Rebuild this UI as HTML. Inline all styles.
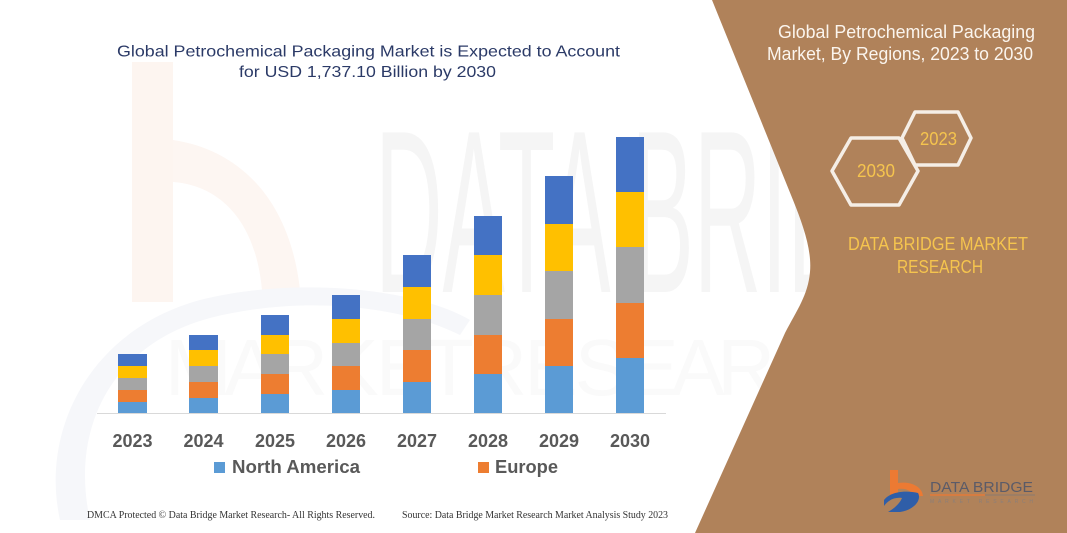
<!DOCTYPE html>
<html><head><meta charset="utf-8"><style>
html,body{margin:0;padding:0;background:#fff;}
svg{display:block;}
</style></head><body>
<svg width="1067" height="533" viewBox="0 0 1067 533" xmlns="http://www.w3.org/2000/svg">
<rect x="0" y="0" width="1067" height="533" fill="#ffffff"/>
<!-- faint watermarks -->
<rect x="132" y="62" width="41" height="240" fill="#fdf5f0"/>
<path d="M173 140 C 240 150, 290 200, 300 290 L 262 290 C 255 215, 215 185, 173 182 Z" fill="#fdf6f2"/>
<path d="M60 520 C 40 430, 90 330, 200 300 C 300 275, 420 290, 470 320 L 460 335 C 400 305, 300 295, 210 318 C 110 345, 70 430, 90 520 Z" fill="#f6f7fa"/>
<text x="375" y="292" font-family="Liberation Sans, sans-serif" font-size="232" fill="#f5f5f5" textLength="615" lengthAdjust="spacingAndGlyphs">DATA BRIDGE</text>
<text x="165" y="395" font-family="Liberation Sans, sans-serif" font-size="80" fill="#fafafa" textLength="720" lengthAdjust="spacing">M A R K E T R E S E A R C H</text>

<!-- brown panel -->
<path d="M712 0 L793 200 C 803 225 812 250 810 272 C 808 295 797 310 785 333 L695 533 L1067 533 L1067 0 Z" fill="#b0825a"/>

<!-- title -->
<text x="117" y="56.5" font-family="Liberation Sans, sans-serif" font-size="16" fill="#2b3a67" textLength="503" lengthAdjust="spacingAndGlyphs">Global Petrochemical Packaging Market is Expected to Account</text>
<text x="239" y="77" font-family="Liberation Sans, sans-serif" font-size="16" fill="#2b3a67" textLength="257" lengthAdjust="spacingAndGlyphs">for USD 1,737.10 Billion by 2030</text>

<!-- baseline -->
<line x1="97" y1="413.5" x2="666" y2="413.5" stroke="#d9d9d9" stroke-width="1"/>

<!-- bars -->
<g>
<rect x="118" y="354" width="29" height="12" fill="#4472c4"/>
<rect x="118" y="366" width="29" height="12" fill="#ffc000"/>
<rect x="118" y="378" width="29" height="12" fill="#a5a5a5"/>
<rect x="118" y="390" width="29" height="12" fill="#ed7d31"/>
<rect x="118" y="402" width="29" height="11" fill="#5b9bd5"/>
<rect x="189" y="335" width="29" height="15" fill="#4472c4"/>
<rect x="189" y="350" width="29" height="16" fill="#ffc000"/>
<rect x="189" y="366" width="29" height="16" fill="#a5a5a5"/>
<rect x="189" y="382" width="29" height="16" fill="#ed7d31"/>
<rect x="189" y="398" width="29" height="15" fill="#5b9bd5"/>
<rect x="261" y="315" width="28" height="20" fill="#4472c4"/>
<rect x="261" y="335" width="28" height="19" fill="#ffc000"/>
<rect x="261" y="354" width="28" height="20" fill="#a5a5a5"/>
<rect x="261" y="374" width="28" height="20" fill="#ed7d31"/>
<rect x="261" y="394" width="28" height="19" fill="#5b9bd5"/>
<rect x="332" y="295" width="28" height="24" fill="#4472c4"/>
<rect x="332" y="319" width="28" height="24" fill="#ffc000"/>
<rect x="332" y="343" width="28" height="23" fill="#a5a5a5"/>
<rect x="332" y="366" width="28" height="24" fill="#ed7d31"/>
<rect x="332" y="390" width="28" height="23" fill="#5b9bd5"/>
<rect x="403" y="255" width="28" height="32" fill="#4472c4"/>
<rect x="403" y="287" width="28" height="32" fill="#ffc000"/>
<rect x="403" y="319" width="28" height="31" fill="#a5a5a5"/>
<rect x="403" y="350" width="28" height="32" fill="#ed7d31"/>
<rect x="403" y="382" width="28" height="31" fill="#5b9bd5"/>
<rect x="474" y="216" width="28" height="39" fill="#4472c4"/>
<rect x="474" y="255" width="28" height="40" fill="#ffc000"/>
<rect x="474" y="295" width="28" height="40" fill="#a5a5a5"/>
<rect x="474" y="335" width="28" height="39" fill="#ed7d31"/>
<rect x="474" y="374" width="28" height="39" fill="#5b9bd5"/>
<rect x="545" y="176" width="28" height="48" fill="#4472c4"/>
<rect x="545" y="224" width="28" height="47" fill="#ffc000"/>
<rect x="545" y="271" width="28" height="48" fill="#a5a5a5"/>
<rect x="545" y="319" width="28" height="47" fill="#ed7d31"/>
<rect x="545" y="366" width="28" height="47" fill="#5b9bd5"/>
<rect x="616" y="137" width="28" height="55" fill="#4472c4"/>
<rect x="616" y="192" width="28" height="55" fill="#ffc000"/>
<rect x="616" y="247" width="28" height="56" fill="#a5a5a5"/>
<rect x="616" y="303" width="28" height="55" fill="#ed7d31"/>
<rect x="616" y="358" width="28" height="55" fill="#5b9bd5"/>
</g>

<!-- year labels -->
<g font-family="Liberation Sans, sans-serif" font-size="18" font-weight="bold" fill="#595959" text-anchor="middle">
<text x="132.5" y="447">2023</text>
<text x="203.5" y="447">2024</text>
<text x="275" y="447">2025</text>
<text x="346" y="447">2026</text>
<text x="417" y="447">2027</text>
<text x="488" y="447">2028</text>
<text x="559" y="447">2029</text>
<text x="630" y="447">2030</text>
</g>

<!-- legend -->
<rect x="214" y="462" width="11" height="11" fill="#5b9bd5"/>
<text x="232" y="473" font-family="Liberation Sans, sans-serif" font-size="18" font-weight="bold" fill="#595959" textLength="128" lengthAdjust="spacingAndGlyphs">North America</text>
<rect x="478" y="462" width="11" height="11" fill="#ed7d31"/>
<text x="495" y="473" font-family="Liberation Sans, sans-serif" font-size="18" font-weight="bold" fill="#595959" textLength="63" lengthAdjust="spacingAndGlyphs">Europe</text>

<!-- footer -->
<text x="87" y="518" font-family="Liberation Serif, serif" font-size="10" fill="#333333" textLength="288" lengthAdjust="spacingAndGlyphs">DMCA Protected © Data Bridge Market Research-  All Rights Reserved.</text>
<text x="402" y="518" font-family="Liberation Serif, serif" font-size="10" fill="#333333" textLength="266" lengthAdjust="spacingAndGlyphs">Source: Data Bridge Market Research  Market Analysis Study 2023</text>

<!-- right panel text -->
<text x="778" y="38" font-family="Liberation Sans, sans-serif" font-size="18" fill="#fbf5ee" textLength="257" lengthAdjust="spacingAndGlyphs">Global Petrochemical Packaging</text>
<text x="767" y="60" font-family="Liberation Sans, sans-serif" font-size="18" fill="#fbf5ee" textLength="266" lengthAdjust="spacingAndGlyphs">Market, By Regions, 2023 to 2030</text>

<!-- hexagons -->
<polygon points="832,171 851,138 899,138 918,171 899,205 851,205" fill="none" stroke="#f5eee6" stroke-width="3.5" stroke-linejoin="round"/>
<polygon points="902,138 915,112 958,112 971,138 958,165 915,165" fill="none" stroke="#f5eee6" stroke-width="3.5" stroke-linejoin="round"/>
<text x="857" y="177" font-family="Liberation Sans, sans-serif" font-size="18" fill="#f5c44e" textLength="38" lengthAdjust="spacingAndGlyphs">2030</text>
<text x="920" y="145" font-family="Liberation Sans, sans-serif" font-size="18" fill="#f5c44e" textLength="37" lengthAdjust="spacingAndGlyphs">2023</text>

<text x="848" y="250" font-family="Liberation Sans, sans-serif" font-size="18" fill="#f5c44e" textLength="180" lengthAdjust="spacingAndGlyphs">DATA BRIDGE MARKET</text>
<text x="897" y="273" font-family="Liberation Sans, sans-serif" font-size="18" fill="#f5c44e" textLength="86" lengthAdjust="spacingAndGlyphs">RESEARCH</text>

<!-- bottom logo -->
<path d="M890 470 L898 470 L898 483 C 910 481 922 486 923 496 L913 496 C 911 490 905 488 898 489 L898 497 L890 497 Z" fill="#ec7a33"/>
<path d="M884 500 C 890 492 905 490 918 493 C 922 500 914 510 900 512 L 888 512 C 895 508 900 503 902 498 C 895 497 888 500 884 506 Z" fill="#2f5ea8"/>
<text x="930" y="492" font-family="Liberation Sans, sans-serif" font-size="15" fill="#5b5b68" textLength="103" lengthAdjust="spacingAndGlyphs">DATA BRIDGE</text>
<line x1="930" y1="495" x2="985" y2="495" stroke="#ec7a33" stroke-width="1.2"/>
<line x1="985" y1="495" x2="1035" y2="495" stroke="#8a7a70" stroke-width="1"/>
<text x="930" y="503" font-family="Liberation Sans, sans-serif" font-size="5" fill="#8a7f7a" textLength="103" lengthAdjust="spacing">MARKET RESEARCH</text>
</svg>
</body></html>
